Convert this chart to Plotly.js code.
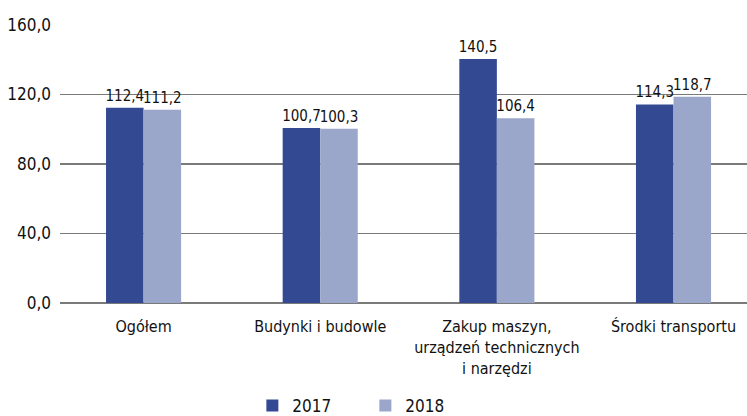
<!DOCTYPE html>
<html><head><meta charset="utf-8">
<script src="https://cdn.plot.ly/plotly-3.0.1.min.js"></script>
<style>html,body{margin:0;padding:0;background:#fff}#c{width:747px;height:416px}</style>
</head><body><div id="c"></div>
<script>
const categories = ["Ogółem", "Budynki i budowle", "Zakup maszyn,<br>urządzeń technicznych<br>i narzędzi", "Środki transportu"];
const values2017 = [112.4, 100.7, 140.5, 114.3];
const values2018 = [111.2, 100.3, 106.4, 118.7];
const seriesNames = ["2017", "2018"];
const yTicks = [0, 40, 80, 120, 160];

const FONT = "DejaVu Sans Condensed, Liberation Sans Narrow, sans-serif";
const colors = ["#334a92", "#9aa7cb"];

const traces = [values2017, values2018].map((v, i) => ({
  type: "bar", x: [0,1,2,3], y: v, name: seriesNames[i],
  marker: {color: colors[i], line: {width: 0}},
  text: v.map(n => n.toFixed(1).replace(".", ",")),
  textposition: "outside", cliponaxis: false, constraintext: "none",
  textfont: {family: FONT, size: 15, color: "#111"},
  hoverinfo: "none"
}));

const layout = {
  width: 747, height: 416,
  margin: {l: 60, r: 0, t: 25, b: 113, autoexpand: false},
  paper_bgcolor: "#fff", plot_bgcolor: "#fff",
  separators: ", ",
  barmode: "group", bargap: 0.575, bargroupgap: 0,
  font: {family: FONT, size: 17, color: "#111"},
  showlegend: true,
  legend: {orientation: "h", x: 0.28, xanchor: "left", y: -0.37, yanchor: "middle",
           entrywidth: 68, entrywidthmode: "pixels",
           font: {family: FONT, size: 17, color: "#111"}, traceorder: "normal", itemwidth: 30},
  xaxis: {
    range: [-0.473, 3.416], tickmode: "array", tickvals: [0,1,2,3], ticktext: categories,
    showgrid: false, zeroline: false, showline: false, ticks: "", automargin: false,
    ticklabelstandoff: 12,
    tickfont: {family: FONT, size: 16, color: "#111"}
  },
  yaxis: {
    range: [0, 160], tickmode: "array", tickvals: yTicks, tickformat: ".1f",
    showgrid: true, gridcolor: "#7a7a7a", gridwidth: 1.5,
    zeroline: true, zerolinecolor: "#7a7a7a", zerolinewidth: 2,
    showline: false, ticks: "", ticklabelstandoff: 8, automargin: false,
    tickfont: {family: FONT, size: 17, color: "#111"}
  }
};
Plotly.newPlot("c", traces, layout, {staticPlot: true, displayModeBar: false});
</script></body></html>
